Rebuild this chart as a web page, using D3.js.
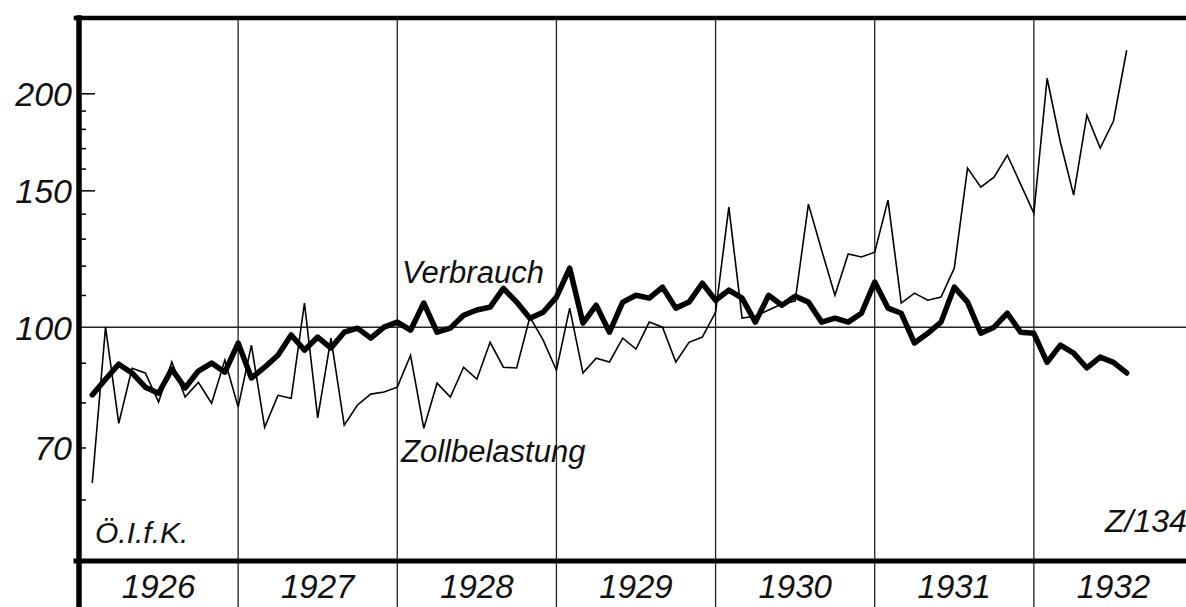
<!DOCTYPE html>
<html>
<head>
<meta charset="utf-8">
<script src="https://cdn.jsdelivr.net/npm/d3@7"></script>
<style>
  html, body { margin: 0; padding: 0; background: #fff; }
  svg { display: block; }
  text { font-family: "Liberation Sans", Arial, sans-serif; font-style: italic; fill: #111; }
</style>
</head>
<body>
<div id="chart"></div>
<script>
// monthly index values, Jan 1926 .. Jul 1932 (log scale, 100 = base)
const years = [1926, 1927, 1928, 1929, 1930, 1931, 1932];

const verbrauch = [
    81.8, 85.7, 89.6, 87.3, 83.7, 82.2, 88.3, 83.5, 87.8, 89.9, 87.5, 95.4,
    86.0, 88.8, 92.0, 97.7, 93.4, 97.1, 94.0, 98.5, 99.7, 96.8, 100.0, 101.5,
    99.1, 107.4, 98.5, 99.7, 103.6, 105.2, 106.1, 112.2, 107.7, 102.7, 104.5, 109.3,
    119.1, 101.2, 106.7, 98.5, 107.7, 109.9, 109.0, 112.6, 105.8, 107.7, 113.9, 108.3,
    111.6, 109.0, 101.5, 109.9, 106.7, 109.6, 107.7, 101.5, 102.7, 101.5, 104.2, 114.3,
    105.8, 104.2, 95.4, 98.2, 101.5, 112.6, 107.7, 98.2, 100.0, 104.2, 98.5, 98.2,
    90.1, 94.8, 92.6, 88.6, 91.5, 90.1, 87.3
];

const zollbelastung = [
    63.0, 100.0, 75.2, 88.5, 87.3, 80.1, 90.2, 81.3, 84.9, 79.8, 90.7, 78.9,
    94.8, 74.3, 81.7, 81.0, 107.4, 76.4, 96.8, 74.8, 79.4, 82.0, 82.5, 83.7,
    92.0, 74.1, 84.7, 81.3, 88.8, 85.7, 95.6, 88.8, 88.6, 103.0, 96.2, 88.0,
    105.8, 87.3, 91.2, 90.2, 96.8, 93.7, 101.5, 100.0, 90.2, 95.6, 97.1, 104.5,
    142.7, 102.7, 103.3, 105.2, 107.1, 108.0, 144.0, 125.6, 109.9, 124.2, 123.1, 124.9,
    145.7, 107.4, 110.6, 108.3, 109.3, 119.1, 160.2, 151.4, 156.0, 166.5, 152.8, 140.2,
    209.1, 173.0, 147.9, 187.4, 170.0, 184.1, 227.2
];

const labelTicks = [70, 100, 150, 200];
const minorTicks = [60, 70, 80, 90, 110, 120, 130, 140, 160, 170, 180, 190];
const majorTicks = [150, 200];

const width = 1186;
const height = 607;
const left = 79;

const svg = d3.select("#chart")
    .append("svg")
    .attr("width", width)
    .attr("height", height);

// each point sits at the end of its month
const x = d3.scaleLinear()
    .domain([1926, 1933])
    .range([left, 1193]);

const y = d3.scaleLog()
    .domain([50, 250])
    .range([561, 18]);

const monthX = i => x(1926 + (i + 1) / 12);

// year separators, running down into the label strip
svg.append("g")
    .selectAll("line")
    .data(years.slice(1))
    .join("line")
    .attr("x1", d => x(d)).attr("x2", d => x(d))
    .attr("y1", y(250)).attr("y2", height)
    .attr("stroke", "#222")
    .attr("stroke-width", 1.3);

// 100 reference line
svg.append("line")
    .attr("x1", left).attr("x2", width)
    .attr("y1", y(100)).attr("y2", y(100))
    .attr("stroke", "#222")
    .attr("stroke-width", 1.5);

// inside ticks
svg.append("g")
    .attr("transform", `translate(${left},0)`)
    .call(d3.axisRight(y).tickValues(minorTicks).tickSize(7).tickFormat(""))
    .call(g => g.select(".domain").remove())
    .selectAll("line").attr("stroke-width", 1.5);

svg.append("g")
    .attr("transform", `translate(${left},0)`)
    .call(d3.axisRight(y).tickValues(majorTicks).tickSize(16).tickFormat(""))
    .call(g => g.select(".domain").remove())
    .selectAll("line").attr("stroke-width", 1.5);

// value labels
svg.append("g")
    .attr("transform", `translate(${left},0)`)
    .call(d3.axisLeft(y).tickValues(labelTicks).tickSize(0).tickPadding(7).tickFormat(d3.format("d")))
    .call(g => g.select(".domain").remove())
    .selectAll("text")
    .attr("font-family", null)
    .style("font-size", "34px")
    .attr("dy", "0.36em");

// frame
const frame = svg.append("g").attr("stroke", "#000").attr("stroke-linecap", "square");
frame.append("line").attr("x1", left - 3).attr("x2", width).attr("y1", y(250)).attr("y2", y(250)).attr("stroke-width", 4.5);
frame.append("line").attr("x1", left - 3).attr("x2", width).attr("y1", y(50)).attr("y2", y(50)).attr("stroke-width", 5);
frame.append("line").attr("x1", left).attr("x2", left).attr("y1", y(250)).attr("y2", height).attr("stroke-width", 5.5);

// series
const line = d3.line()
    .x((d, i) => monthX(i))
    .y(d => y(d));

svg.append("path")
    .datum(zollbelastung)
    .attr("fill", "none")
    .attr("stroke", "#000")
    .attr("stroke-width", 1.6)
    .attr("stroke-linejoin", "miter")
    .attr("d", line);

svg.append("path")
    .datum(verbrauch)
    .attr("fill", "none")
    .attr("stroke", "#000")
    .attr("stroke-width", 5.5)
    .attr("stroke-linejoin", "round")
    .attr("stroke-linecap", "round")
    .attr("d", line);

// year labels
svg.append("g")
    .selectAll("text")
    .data(years)
    .join("text")
    .attr("x", d => x(d + 0.5))
    .attr("y", 598)
    .attr("text-anchor", "middle")
    .style("font-size", "33px")
    .text(d => d);

// annotations
svg.append("text").attr("x", 402).attr("y", 283).style("font-size", "31px").text("Verbrauch");
svg.append("text").attr("x", 401).attr("y", 462).style("font-size", "31px").text("Zollbelastung");
svg.append("text").attr("x", 95).attr("y", 543).style("font-size", "30px").text("Ö.I.f.K.");
svg.append("text").attr("x", 1105).attr("y", 532).style("font-size", "32px").text("Z/134");
</script>
</body>
</html>
